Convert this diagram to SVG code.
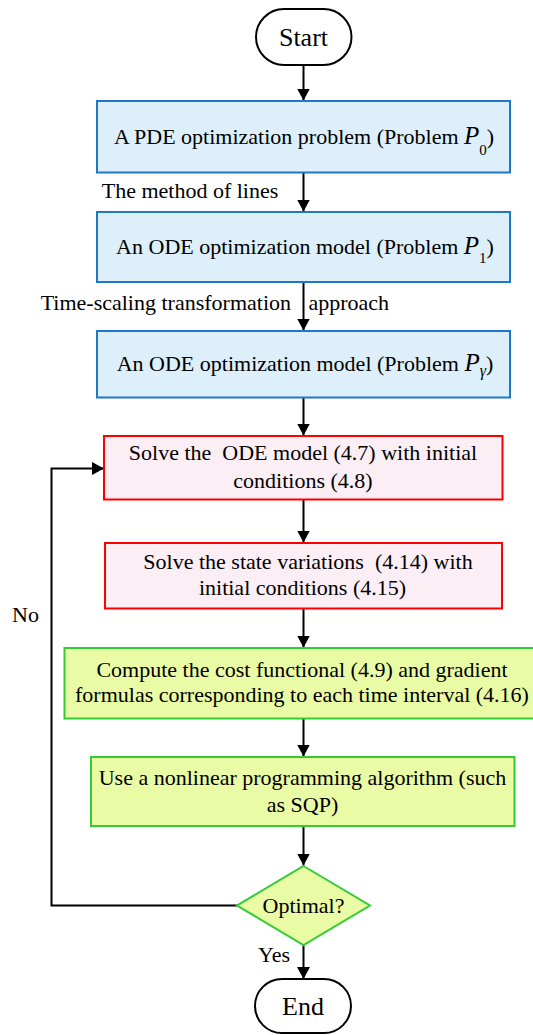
<svg xmlns="http://www.w3.org/2000/svg" width="533" height="1035" viewBox="0 0 533 1035">
<defs>
<marker id="arr" markerUnits="userSpaceOnUse" markerWidth="12" markerHeight="13" refX="12" refY="6.5" orient="auto">
<path d="M0,0 L12,6.5 L0,13 z" fill="#000"/>
</marker>
<style>
text{font-family:"Liberation Serif","Times New Roman",serif;font-size:22px;fill:#000}
.term{fill:#fff;stroke:#000;stroke-width:2}
.blue{fill:#DCEFFA;stroke:#1F77C8;stroke-width:2}
.red{fill:#FBEEF4;stroke:#FF0000;stroke-width:2}
.green{fill:#EAFBA5;stroke:#33CC33;stroke-width:2}
.c{text-anchor:middle}
.big{font-size:26px}
.conn{fill:none;stroke:#000;stroke-width:2}
</style>
</defs>
<rect width="533" height="1035" fill="#fff"/>
<g id="connectors">
<line class="conn" x1="303.5" y1="65" x2="303.5" y2="100.5" marker-end="url(#arr)"/>
<line class="conn" x1="303.5" y1="172.5" x2="303.5" y2="211.5" marker-end="url(#arr)"/>
<line class="conn" x1="303.5" y1="282" x2="303.5" y2="330.5" marker-end="url(#arr)"/>
<line class="conn" x1="303.5" y1="397.5" x2="303.5" y2="435.5" marker-end="url(#arr)"/>
<line class="conn" x1="303.5" y1="499.5" x2="303.5" y2="542.5" marker-end="url(#arr)"/>
<line class="conn" x1="303.5" y1="608.5" x2="303.5" y2="647.5" marker-end="url(#arr)"/>
<line class="conn" x1="303.5" y1="718.5" x2="303.5" y2="756.5" marker-end="url(#arr)"/>
<line class="conn" x1="303.5" y1="826" x2="303.5" y2="865.5" marker-end="url(#arr)"/>
<line class="conn" x1="303.5" y1="945" x2="303.5" y2="979" marker-end="url(#arr)"/>
<polyline class="conn" points="237,905.5 51.5,905.5 51.5,468.5 104,468.5" marker-end="url(#arr)"/>
<text x="101.7" y="198">The method of lines</text>
<text x="40.7" y="310">Time-scaling transformation</text>
<text x="308.5" y="310">approach</text>
<text x="12" y="622">No</text>
<text x="258" y="962">Yes</text>
</g>
<g id="start">
<rect class="term" x="256" y="9" width="95.5" height="56" rx="28"/>
<text class="c big" x="303.5" y="46">Start</text>
</g>
<g id="p0">
<rect class="blue" x="97" y="101" width="413" height="71.5"/>
<text class="c" x="304" y="144">A PDE optimization problem (Problem <tspan font-style="italic" font-size="25">P</tspan><tspan font-size="15" dy="11">0</tspan><tspan dy="-11">)</tspan></text>
</g>
<g id="p1">
<rect class="blue" x="97" y="212" width="413" height="70"/>
<text class="c" x="305" y="253.5">An ODE optimization model (Problem <tspan font-style="italic" font-size="25">P</tspan><tspan font-size="15" dy="9">1</tspan><tspan dy="-9">)</tspan></text>
</g>
<g id="pgamma">
<rect class="blue" x="97" y="331" width="413" height="66.5"/>
<text class="c" x="305" y="371">An ODE optimization model (Problem <tspan font-style="italic" font-size="25">P</tspan><tspan font-style="italic" font-size="16" dy="5">γ</tspan><tspan dy="-5">)</tspan></text>
</g>
<g id="solve-ode">
<rect class="red" x="104" y="436" width="398.5" height="63.5"/>
<text class="c" x="303" y="460" xml:space="preserve">Solve the  ODE model (4.7) with initial</text>
<text class="c" x="303" y="487.5">conditions (4.8)</text>
</g>
<g id="solve-state">
<rect class="red" x="105" y="543" width="397" height="65.5"/>
<text class="c" x="308" y="568.5" xml:space="preserve">Solve the state variations  (4.14) with</text>
<text class="c" x="302.5" y="595">initial conditions (4.15)</text>
</g>
<g id="compute">
<rect class="green" x="64.5" y="648" width="478" height="70.5"/>
<text class="c" x="302" y="677">Compute the cost functional (4.9) and gradient</text>
<text class="c" x="302" y="702">formulas corresponding to each time interval (4.16)</text>
</g>
<g id="nlp">
<rect class="green" x="91" y="757" width="423.5" height="69"/>
<text class="c" x="302.5" y="784.5">Use a nonlinear programming algorithm (such</text>
<text class="c" x="302.5" y="812">as SQP)</text>
</g>
<g id="optimal">
<polygon class="green" points="303.5,866 370,905.5 303.5,945 237,905.5"/>
<text class="c" x="303.5" y="913">Optimal?</text>
</g>
<g id="end">
<rect class="term" x="255" y="979" width="96" height="54" rx="27"/>
<text class="c big" x="303" y="1015">End</text>
</g>
</svg>
